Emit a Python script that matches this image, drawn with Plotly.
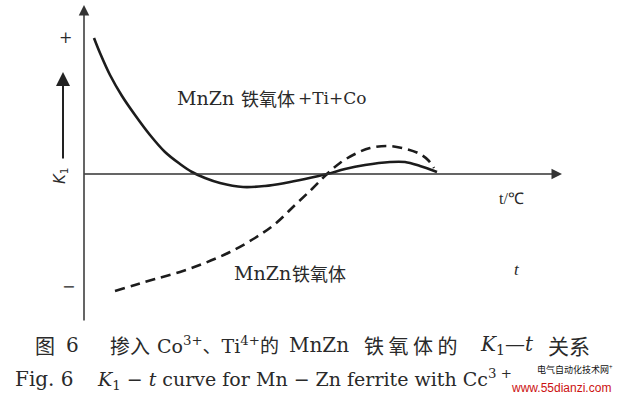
import plotly.graph_objects as go

# Data (arbitrary units: t along horizontal axis, K1 along vertical axis)
t_solid = [2.5, 4, 6.5, 9.5, 12.75, 16.5, 20.25, 24, 27, 30.25, 34, 39.75, 45.25, 50.25, 55.25, 60.75, 65.25, 70.25, 76.5, 80.25, 84, 88.25]
k_solid = [68, 60.5, 49.5, 39, 29.5, 19.5, 11, 5, 1, -2, -4.5, -6.5, -6, -4.5, -2.5, 0, 2.5, 4.5, 6, 6, 4, 1]
t_dash = [7.75, 12.75, 17.75, 24, 30.25, 36.5, 42.75, 47.75, 52.75, 57, 60.75, 64, 67.75, 71.5, 75.75, 79.5, 83.5, 86, 87.5]
k_dash = [-58.5, -55.5, -52.5, -49, -44.5, -39, -32, -25, -15.5, -7.5, 0, 5.5, 10, 13, 14, 13, 10.5, 7, 3]

W, H = 619, 397
X0, X1 = -21, 133.75
Y0, Y1 = -111.5, 87

serif = "DejaVu Serif, Noto Sans CJK SC, serif"
cjk = "Noto Sans CJK SC, sans-serif"
ink = "#1c1c1c"
grey = "#333"

fig = go.Figure()
fig.add_trace(go.Scatter(x=t_solid, y=k_solid, mode="lines",
                         line=dict(color=ink, width=2.6, shape="spline", smoothing=1.0),
                         hoverinfo="skip", showlegend=False))
fig.add_trace(go.Scatter(x=t_dash, y=k_dash, mode="lines",
                         line=dict(color=ink, width=2.6, shape="spline", smoothing=1.0, dash="10px,6px"),
                         hoverinfo="skip", showlegend=False))

def px(xp):
    return xp / W

def py(yp):
    return 1 - yp / H

ann = []
# axes with arrows
ann.append(dict(x=0, y=84.5, ax=0, ay=-74, xref="x", yref="y", axref="x", ayref="y",
                showarrow=True, arrowhead=2, arrowsize=1.4, arrowwidth=1.5, arrowcolor=grey, text=""))
ann.append(dict(x=119.5, y=0, ax=-0.3, ay=0, xref="x", yref="y", axref="x", ayref="y",
                showarrow=True, arrowhead=2, arrowsize=1.4, arrowwidth=1.5, arrowcolor=grey, text=""))
ann.append(dict(x=-5.25, y=51, ax=-5.25, ay=7, xref="x", yref="y", axref="x", ayref="y",
                showarrow=True, arrowhead=2, arrowsize=1.4, arrowwidth=2, arrowcolor="#222", text=""))

def txt(x, y, s, size, xanchor="left", angle=0, family=serif, color="#2a2a2a"):
    ann.append(dict(x=px(x), y=py(y), xref="paper", yref="paper", text=s, showarrow=False,
                    xanchor=xanchor, yanchor="middle", textangle=angle,
                    font=dict(family=family, size=size, color=color)))

txt(65, 37, "+", 16, xanchor="center")
txt(68, 286, "−", 16, xanchor="center")
txt(60, 176, "<i>K</i><sub>1</sub>", 15, xanchor="center", angle=-90, family="DejaVu Sans, sans-serif")

# in-plot labels
txt(175, 98, "MnZn", 19)
txt(239, 98, "铁氧体", 18, family=cjk)
txt(296, 98, "+Ti+Co", 17)
txt(232, 273, "MnZn", 19)
txt(290, 273, "铁氧体", 18, family=cjk)
txt(497, 198, "t/℃", 16, family="Liberation Serif, serif")
txt(512, 269, "<i>t</i>", 17, family="Liberation Serif, serif")

# caption line 1
y1 = 345
txt(33, y1, "图", 20, family=cjk)
txt(64, y1, "6", 20)
txt(108, y1, "掺入", 20, family=cjk)
txt(155, y1, "Co<sup>3+</sup>、Ti<sup>4+</sup>的", 19)
txt(287, y1, "MnZn", 20)
txt(362, y1, "铁 氧 体 的", 20, family=cjk)
txt(478, y1, "<i>K</i><sub>1</sub>—<i>t</i>", 20)
txt(546, y1, "关系", 21, family=cjk)

# caption line 2
y2 = 379
txt(13, y2, "Fig. 6", 20)
txt(95, y2, "<i>K</i><sub>1</sub> − <i>t</i> curve for Mn − Zn ferrite with Cc<sup>3 +</sup>", 19)

# watermark
txt(535, 369, "电气自动化技术网<sup>+</sup>", 9, family=cjk, color="#111")
txt(509, 388, "www.55dianzi.com", 12, family="Liberation Sans, Arial, sans-serif", color="#cc1111")

fig.update_layout(
    width=W, height=H,
    margin=dict(l=0, r=0, t=0, b=0),
    paper_bgcolor="white", plot_bgcolor="white",
    xaxis=dict(range=[X0, X1], visible=False, fixedrange=True),
    yaxis=dict(range=[Y0, Y1], visible=False, fixedrange=True),
    annotations=ann,
)

fig.write_html("out.html", config={"displayModeBar": False},
               post_script="document.body.style.margin='0';document.body.style.overflow='hidden';")
